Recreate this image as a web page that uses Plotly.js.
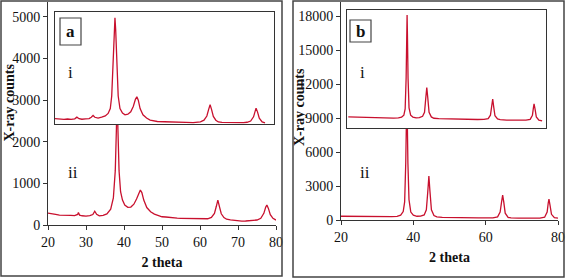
<!DOCTYPE html>
<html>
<head>
<meta charset="utf-8">
<script src="https://cdn.plot.ly/plotly-3.0.1.min.js"></script>
<style>html,body{margin:0;padding:0;background:#fff;}#chart{width:567px;height:279px;}</style>
</head>
<body>
<div id="chart"></div>
<script>
// ---------- DATA ----------
// Panel a, curve ii (main axes)
const aII_theta = [20,21,22,23,24,25,26,27,27.8,28,28.3,29,30,31,31.8,32.3,32.8,33.5,34.5,35.5,36.5,37.2,37.7,38.0,38.2,38.4,38.7,39.1,39.6,40.2,41,41.8,42.6,43.3,43.9,44.3,44.7,45.2,46,47,48,49,50,51,52,53,54,55,56,57,58,59,60,61,62,63,63.8,64.3,64.7,65.1,65.6,66.3,67,68,69,70,71,72,73,74,75,76,76.8,77.3,77.6,78,78.5,79.2,80];
const aII_counts = [285,262,255,238,240,228,232,226,255,300,238,222,212,224,252,330,255,218,232,268,380,650,1300,2300,3400,2300,1300,800,600,480,425,432,500,625,770,840,780,600,420,318,262,222,198,192,178,172,163,160,158,148,152,144,140,142,150,182,280,450,600,450,270,180,140,122,108,100,95,96,99,104,120,160,280,430,480,400,250,160,118];
// Panel a, curve i (inset)
const aI_theta = [20,21,22,23,24,25,26,27,27.6,28.2,29,30,31,31.6,32.1,32.6,33.5,34.5,35.5,36.3,36.9,37.3,37.7,38.0,38.2,38.4,38.7,39.1,39.6,40.3,41,41.8,42.6,43.3,43.9,44.3,44.7,45.2,46,47,48,49,50,52,54,56,58,60,61,62,63,63.8,64.3,64.7,65.1,65.6,66.3,67,68,70,72,74,75,76,76.8,77.2,77.5,77.9,78.4,79.2,80];
const aI_counts = [2565,2558,2548,2552,2540,2548,2538,2552,2592,2556,2542,2553,2558,2592,2632,2590,2572,2592,2622,2682,2800,3100,3900,4700,4980,4700,3900,3100,2800,2690,2648,2662,2720,2850,3020,3080,3000,2800,2650,2570,2522,2502,2488,2482,2472,2474,2466,2462,2470,2480,2520,2620,2780,2890,2780,2610,2520,2478,2466,2458,2456,2460,2470,2500,2600,2740,2810,2720,2570,2480,2455];
// Panel b, curve ii (main axes)
const bII_theta = [20,22,24,26,28,30,32,34,35.5,36.5,37.2,37.6,37.9,38.1,38.2,38.3,38.5,38.8,39.3,40,41,42,43,43.6,44.0,44.3,44.6,45.0,45.7,46.5,48,50,52,54,56,58,60,62,63.3,64.0,64.4,64.7,65.0,65.4,66.2,67,69,71,73,75,76.3,77.0,77.3,77.5,77.8,78.2,79,80];
const bII_counts = [330,320,310,300,290,280,280,290,320,420,750,1600,5000,9500,11000,9500,5000,1800,700,420,330,340,450,900,2500,3880,2500,900,400,280,230,210,200,190,185,180,180,190,280,700,1600,2200,1600,600,230,180,160,150,150,160,250,700,1500,1850,1300,500,200,170];
// Panel b, curve i (inset)
const bI_theta = [20,22,24,26,28,30,32,34,35.5,36.5,37.2,37.6,37.9,38.1,38.2,38.3,38.5,38.8,39.3,40,41,42,43,43.6,44.0,44.3,44.6,45.0,45.7,46.5,48,50,52,54,56,58,60,62,63.3,64.0,64.4,64.7,65.0,65.4,66.2,67,69,71,73,75,76.3,77.0,77.3,77.5,77.8,78.2,79,80];
const bI_counts = [9100,9080,9060,9040,9020,9000,8990,9000,9020,9080,9250,9800,12500,16500,18100,16500,12500,9900,9250,9080,9020,9030,9150,9500,10800,11700,10800,9500,9100,8980,8940,8920,8900,8890,8880,8870,8870,8880,8950,9250,10000,10680,10000,9200,8920,8860,8820,8800,8800,8810,8880,9250,9900,10250,9800,9100,8820,8740];

const aXTicks = [20,30,40,50,60,70,80];
const aYTicks = [0,1000,2000,3000,4000,5000];
const bXTicks = [20,40,60,80];
const bYTicks = [0,3000,6000,9000,12000,15000,18000];
const panelLabels = ['a','b'];
const curveLabels = ['i','ii'];
const xTitle = '2 theta';
const yTitle = 'X-ray counts';

// ---------- LAYOUT (pixel geometry) ----------
const W = 567, H = 279;
const fx = p => p / W;
const fy = p => 1 - p / H;
const RED = '#c8102e';
const FONT = 'Liberation Serif, Times New Roman, serif';
const AX = '#333';

const line = {color: RED, width: 1.3};
const traces = [
  {x: aII_theta, y: aII_counts, xaxis: 'x', yaxis: 'y', type: 'scatter', mode: 'lines', line: line, name: 'a ii'},
  {x: aI_theta, y: aI_counts, xaxis: 'x2', yaxis: 'y2', type: 'scatter', mode: 'lines', line: line, name: 'a i'},
  {x: bII_theta, y: bII_counts, xaxis: 'x3', yaxis: 'y3', type: 'scatter', mode: 'lines', line: line, name: 'b ii'},
  {x: bI_theta, y: bI_counts, xaxis: 'x4', yaxis: 'y4', type: 'scatter', mode: 'lines', line: line, name: 'b i'}
];

function mainX(dom, ticks, anchor) {
  return {domain: dom, range: [20, 80], anchor: anchor, tickmode: 'array', tickvals: ticks,
    ticktext: ticks.map(String),
    ticks: 'outside', ticklen: 4, tickcolor: AX, showline: true, linecolor: AX, linewidth: 1,
    showgrid: false, zeroline: false, tickfont: {family: FONT, size: 14, color: '#111'},
    title: {text: xTitle, font: {family: FONT, size: 14, color: '#111', weight: 'bold'}, standoff: 8}};
}
function mainY(dom, range, ticks, anchor) {
  return {domain: dom, range: range, anchor: anchor, tickmode: 'array', tickvals: ticks,
    ticktext: ticks.map(String),
    ticks: 'outside', ticklen: 4, tickcolor: AX, showline: true, linecolor: AX, linewidth: 1,
    showgrid: false, zeroline: false, tickfont: {family: FONT, size: 14, color: '#111'}};
}
function insetAx(dom, range, anchor) {
  return {domain: dom, range: range, anchor: anchor, showticklabels: false, ticks: '',
    showline: true, mirror: true, linecolor: AX, linewidth: 1, showgrid: false, zeroline: false};
}
function txt(x, y, text, size, extra) {
  return Object.assign({xref: 'paper', yref: 'paper', x: fx(x), y: fy(y), text: text, showarrow: false,
    font: {family: FONT, size: size, color: '#111'}, xanchor: 'center', yanchor: 'middle'}, extra || {});
}

const layout = {
  width: W, height: H,
  margin: {l: 0, r: 0, t: 0, b: 0},
  paper_bgcolor: '#fff', plot_bgcolor: '#fff',
  showlegend: false,
  font: {family: FONT, color: '#111'},
  xaxis: mainX([fx(48), fx(276)], aXTicks, 'y'),
  yaxis: mainY([fy(225), fy(2)], [0, 5360], aYTicks, 'x'),
  xaxis2: insetAx([fx(55), fx(274)], [21.5, 82.5], 'y2'),
  yaxis2: insetAx([fy(124), fy(12)], [2428, 5120], 'x2'),
  xaxis3: mainX([fx(341), fx(558)], bXTicks, 'y3'),
  yaxis3: mainY([fy(220), fy(2)], [0, 19240], bYTicks, 'x3'),
  xaxis4: insetAx([fx(347), fx(546)], [19.6, 81.2], 'y4'),
  yaxis4: insetAx([fy(128), fy(10)], [8120, 18535], 'x4'),
  shapes: [
    {type: 'rect', xref: 'paper', yref: 'paper', x0: fx(1), x1: fx(282), y0: fy(276), y1: fy(1), line: {color: '#444', width: 1.5}},
    {type: 'rect', xref: 'paper', yref: 'paper', x0: fx(293), x1: fx(564), y0: fy(277), y1: fy(1), line: {color: '#444', width: 1.5}},
    {type: 'rect', xref: 'paper', yref: 'paper', x0: fx(60), x1: fx(81), y0: fy(45), y1: fy(18), line: {color: '#444', width: 1.2}},
    {type: 'rect', xref: 'paper', yref: 'paper', x0: fx(350), x1: fx(371), y0: fy(42), y1: fy(20), line: {color: '#444', width: 1.2}}
  ],
  annotations: [
    txt(70.5, 31.5, '<b>' + panelLabels[0] + '</b>', 17),
    txt(360.5, 31, '<b>' + panelLabels[1] + '</b>', 17),
    txt(70, 72, curveLabels[0], 17),
    txt(73, 172, curveLabels[1], 17),
    txt(362, 72, curveLabels[0], 17),
    txt(365, 172, curveLabels[1], 17),
    txt(8.5, 103, '<b>' + yTitle + '</b>', 14, {textangle: -90}),
    txt(300, 107, '<b>' + yTitle + '</b>', 14, {textangle: -90})
  ]
};

Plotly.newPlot('chart', traces, layout, {staticPlot: true, displayModeBar: false});
</script>
</body>
</html>
